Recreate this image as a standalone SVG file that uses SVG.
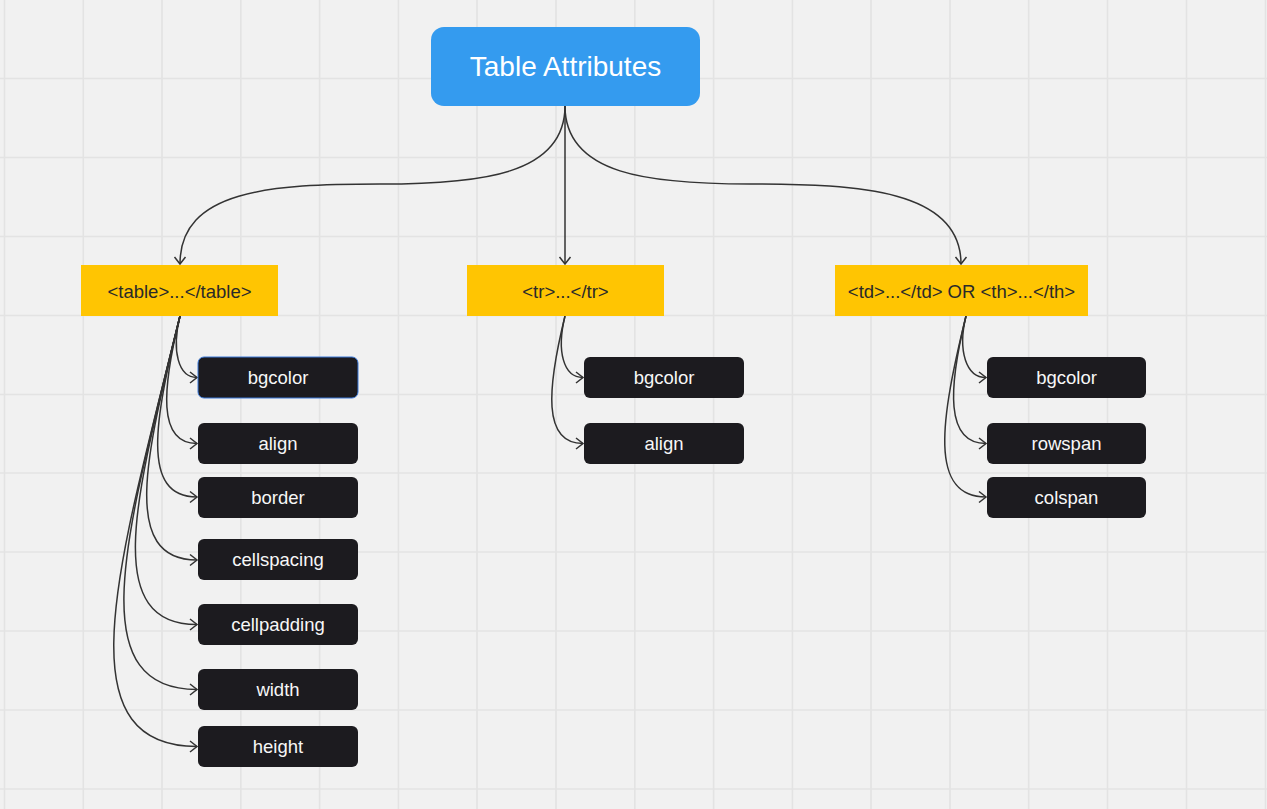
<svg xmlns="http://www.w3.org/2000/svg" width="1267" height="809" viewBox="0 0 1267 809">
<defs>
<style>
.grid line{stroke:#e3e3e3;stroke-width:1.6}
.conn path{fill:none;stroke:#333;stroke-width:1.5;marker-end:url(#arr)}
.root rect{fill:#349bef}
.root text{fill:#fff;font-family:"Liberation Sans",Arial,sans-serif;font-size:28px;text-anchor:middle}
.tag rect{fill:#ffc502}
.tag text{fill:#2a2a2a;font-family:"Liberation Sans",Arial,sans-serif;font-size:18.5px;text-anchor:middle}
.attr rect{fill:#1c1b1f}
.attr text{fill:#f7f7f7;font-family:"Liberation Sans",Arial,sans-serif;font-size:18.5px;text-anchor:middle}
</style>
<marker id="arr" viewBox="-8 -7 10 14" markerWidth="10" markerHeight="14" refX="0" refY="0" orient="auto" markerUnits="userSpaceOnUse">
<path d="M-7,-5.5 L0,0 L-7,5.5" fill="none" stroke="#333" stroke-width="1.5"/>
</marker>
</defs>
<rect width="1267" height="809" fill="#f1f1f1"/>
<g class="grid">
<line x1="4.5" y1="0" x2="4.5" y2="809"/><line x1="83.3" y1="0" x2="83.3" y2="809"/><line x1="162" y1="0" x2="162" y2="809"/><line x1="240.8" y1="0" x2="240.8" y2="809"/><line x1="319.6" y1="0" x2="319.6" y2="809"/><line x1="398.4" y1="0" x2="398.4" y2="809"/><line x1="477" y1="0" x2="477" y2="809"/><line x1="556" y1="0" x2="556" y2="809"/><line x1="634.8" y1="0" x2="634.8" y2="809"/><line x1="713.6" y1="0" x2="713.6" y2="809"/><line x1="792.4" y1="0" x2="792.4" y2="809"/><line x1="871" y1="0" x2="871" y2="809"/><line x1="950" y1="0" x2="950" y2="809"/><line x1="1028.7" y1="0" x2="1028.7" y2="809"/><line x1="1107.5" y1="0" x2="1107.5" y2="809"/><line x1="1186.5" y1="0" x2="1186.5" y2="809"/><line x1="1265.5" y1="0" x2="1265.5" y2="809"/>
<line x1="0" y1="78.5" x2="1267" y2="78.5"/><line x1="0" y1="157.5" x2="1267" y2="157.5"/><line x1="0" y1="236.5" x2="1267" y2="236.5"/><line x1="0" y1="315.5" x2="1267" y2="315.5"/><line x1="0" y1="394.5" x2="1267" y2="394.5"/><line x1="0" y1="473" x2="1267" y2="473"/><line x1="0" y1="552" x2="1267" y2="552"/><line x1="0" y1="631" x2="1267" y2="631"/><line x1="0" y1="710" x2="1267" y2="710"/><line x1="0" y1="789" x2="1267" y2="789"/>
</g>
<g id="connectors" class="conn">
<path d="M565,106 C565,175 480,184 380,184 C270,184 180,190 180,264"/>
<path d="M565,106 L565,264"/>
<path d="M565,106 C565,175 650,184 750,184 C860,184 961,190 961,264"/>
<path d="M180,316 C171.4,351.1 178.3,377.5 197,377.5"/>
<path d="M180,316 C162.2,388.7 157.2,443.5 197,443.5"/>
<path d="M180,316 C154.7,419.2 140.1,497 197,497"/>
<path d="M180,316 C145.8,455.1 119.9,560 197,560"/>
<path d="M180,316 C136.8,491.8 99.3,624.5 197,624.5"/>
<path d="M180,316 C127.7,528.9 78.5,689.5 197,689.5"/>
<path d="M180,316 C119.7,561.4 60.2,746.5 197,746.5"/>
<path d="M565,316 C556.4,351.1 563.3,377.5 583,377.5"/>
<path d="M565,316 C547.2,388.7 542.2,443.5 583,443.5"/>
<path d="M966,316 C957.4,351.1 966.3,377.5 986,377.5"/>
<path d="M966,316 C948.2,388.7 945.2,443.5 986,443.5"/>
<path d="M966,316 C940.7,419.2 928.1,497 986,497"/>
</g>
<g id="root" class="root"><rect x="431" y="27" width="269" height="79" rx="13"/><text x="565.5" y="76">Table Attributes</text></g>
<g id="tag-table" class="tag"><rect x="81" y="265" width="197" height="51"/><text x="179.5" y="297.5">&lt;table&gt;...&lt;/table&gt;</text></g>
<g id="tag-tr" class="tag"><rect x="467" y="265" width="197" height="51"/><text x="565.5" y="297.5">&lt;tr&gt;...&lt;/tr&gt;</text></g>
<g id="tag-td" class="tag"><rect x="835" y="265" width="253" height="51"/><text x="961.5" y="297.5">&lt;td&gt;...&lt;/td&gt; OR &lt;th&gt;...&lt;/th&gt;</text></g>
<g id="t-bgcolor" class="attr"><rect x="198" y="357" width="160" height="41" rx="6" stroke="#3a78d8" stroke-width="1"/><text x="278" y="384">bgcolor</text></g>
<g id="t-align" class="attr"><rect x="198" y="423" width="160" height="41" rx="6"/><text x="278" y="450">align</text></g>
<g id="t-border" class="attr"><rect x="198" y="477" width="160" height="41" rx="6"/><text x="278" y="504">border</text></g>
<g id="t-cellspacing" class="attr"><rect x="198" y="539" width="160" height="41" rx="6"/><text x="278" y="566">cellspacing</text></g>
<g id="t-cellpadding" class="attr"><rect x="198" y="604" width="160" height="41" rx="6"/><text x="278" y="631">cellpadding</text></g>
<g id="t-width" class="attr"><rect x="198" y="669" width="160" height="41" rx="6"/><text x="278" y="696">width</text></g>
<g id="t-height" class="attr"><rect x="198" y="726" width="160" height="41" rx="6"/><text x="278" y="753">height</text></g>
<g id="r-bgcolor" class="attr"><rect x="584" y="357" width="160" height="41" rx="6"/><text x="664" y="384">bgcolor</text></g>
<g id="r-align" class="attr"><rect x="584" y="423" width="160" height="41" rx="6"/><text x="664" y="450">align</text></g>
<g id="c-bgcolor" class="attr"><rect x="987" y="357" width="159" height="41" rx="6"/><text x="1066.5" y="384">bgcolor</text></g>
<g id="c-rowspan" class="attr"><rect x="987" y="423" width="159" height="41" rx="6"/><text x="1066.5" y="450">rowspan</text></g>
<g id="c-colspan" class="attr"><rect x="987" y="477" width="159" height="41" rx="6"/><text x="1066.5" y="504">colspan</text></g>
</svg>
